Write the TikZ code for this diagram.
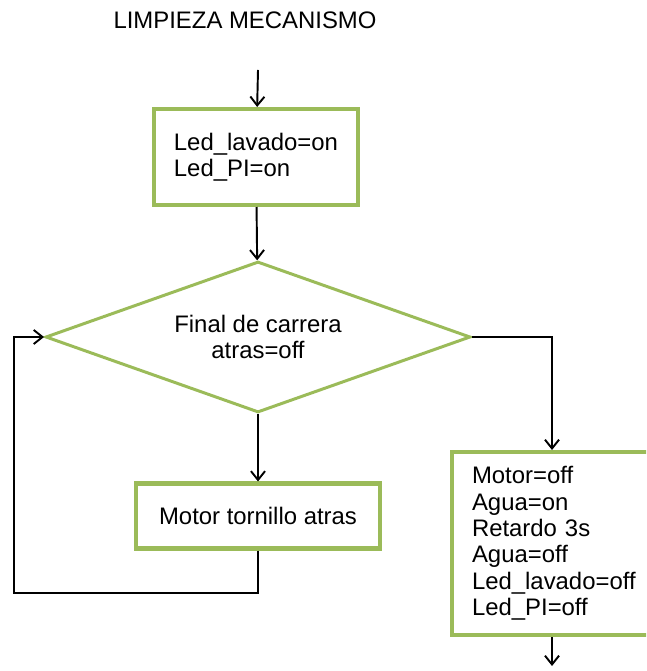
\documentclass[tikz,border=0pt]{standalone}
\usepackage{fontspec}
\setmainfont{Liberation Sans}
\usepackage{tikz}
\usetikzlibrary{shapes.geometric}
\usetikzlibrary{arrows.meta}

\definecolor{boxgreen}{HTML}{9BBB59}

\begin{document}
\begin{tikzpicture}[x=0.02cm, y=-0.02cm,
    every node/.style={font=\fontsize{13.6pt}{15pt}\selectfont},
    greenbox/.style={draw=boxgreen, line width=2.3pt, fill=white, align=left, inner sep=0pt},
    decision/.style={diamond, aspect=3, draw=boxgreen, line width=1.7pt, fill=white, align=center, inner sep=0pt},
    flow/.style={line width=1.1pt, -{Straight Barb[length=5pt, width=8pt]}}]
        \useasboundingbox (0, 0) rectangle (646, 671);
        \clip (0, 0) rectangle (646, 671);

        \node (title) at (245, 20) {LIMPIEZA MECANISMO};
        \coordinate (start) at (258, 70);

        \node[greenbox, minimum width=4.08cm, minimum height=1.92cm] (init) at (256, 157)
            {Led\_lavado=on\\Led\_PI=on};
        \node[decision, minimum width=8.5cm, minimum height=3.02cm] (check) at (258, 337)
            {Final de carrera\\atras=off};
        \node[greenbox, minimum width=4.88cm, minimum height=1.3cm, align=center] (back) at (258, 516)
            {Motor tornillo atras};
        \node[greenbox, anchor=north west, text width=3.6cm, inner xsep=0.4cm,
              minimum height=3.66cm] (stop) at (450, 450)
            {Motor=off\\Agua=on\\Retardo 3s\\Agua=off\\Led\_lavado=off\\Led\_PI=off};

        \coordinate (loop) at (14, 593);
        \coordinate (turn) at (552, 337);
        \coordinate (end) at (552, 666);

        \draw[flow] (start) -- (init);
        \draw[flow] (init) -- (check);
        \draw[flow] (check) -- (back);
        \draw[flow] (back.south) |- (loop) |- (check.west);
        \draw[flow] (check.east) -- (turn) -- (turn |- stop.north);
        \draw[flow] (end |- stop.south) -- (end);
      \end{tikzpicture}
\end{document}
